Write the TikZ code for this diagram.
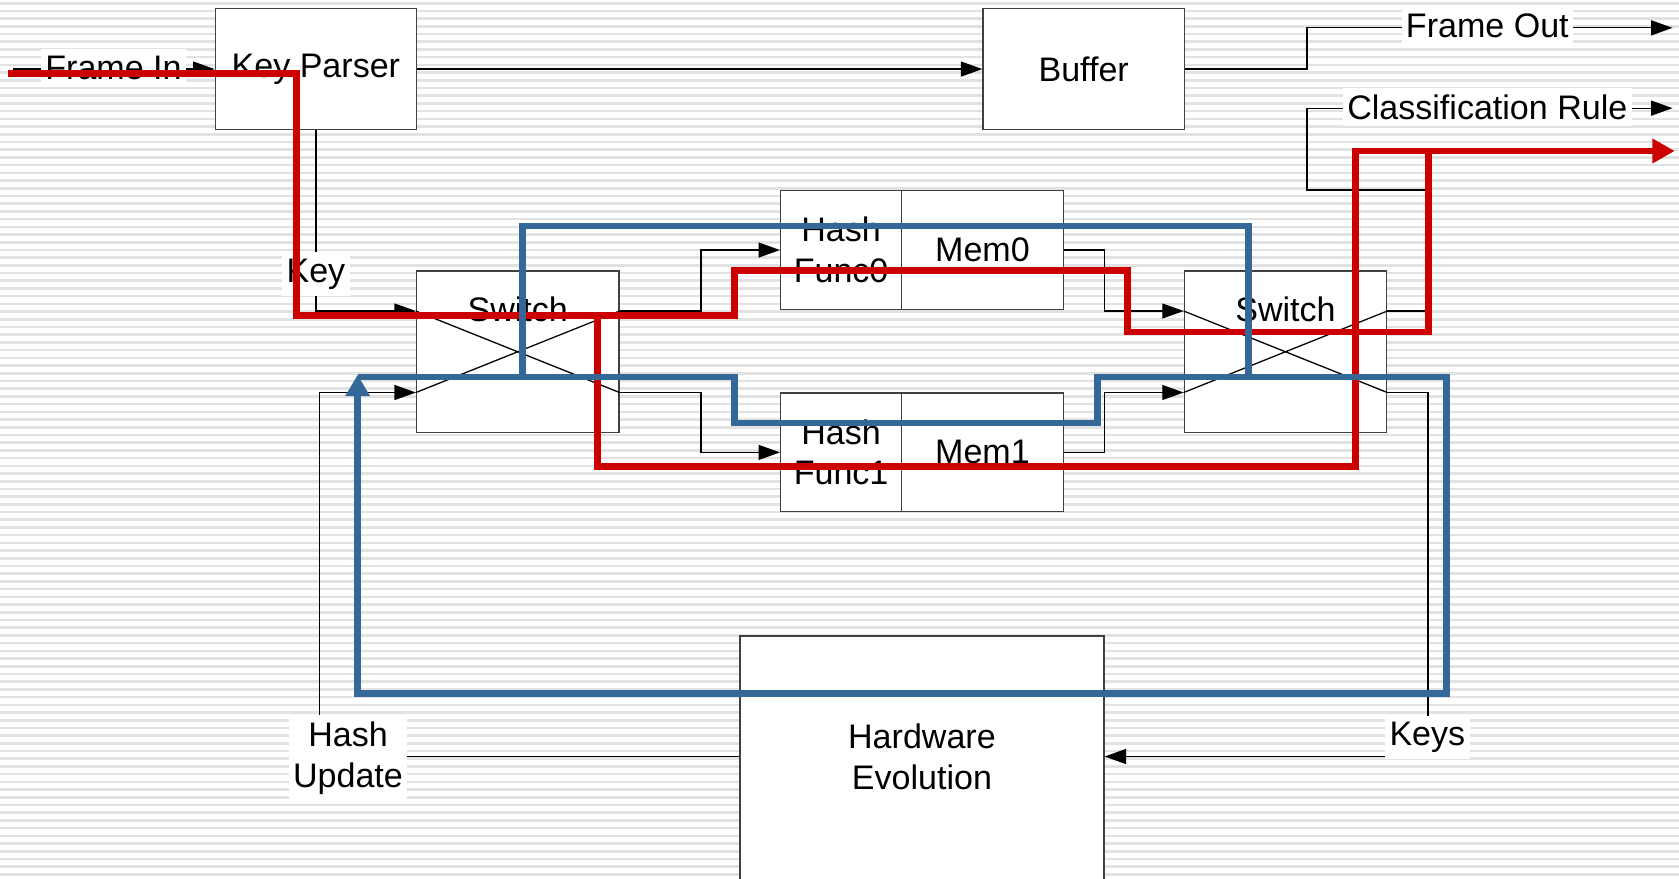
\documentclass[tikz,border=0pt]{standalone}
\usepackage{fontspec}
\setmainfont{Liberation Sans}
\usetikzlibrary{arrows.meta,calc}
\definecolor{redp}{RGB}{204,0,0}
\definecolor{bluep}{RGB}{52,104,153}
\definecolor{stripec}{RGB}{226,226,226}
\begin{document}
\begin{tikzpicture}[x=0.5pt,y=-0.5pt,
  box/.style={draw=black!75, line width=0.6pt, fill=white, inner sep=0pt,
    font=\fontsize{15.9}{19}\selectfont, align=center},
  txt/.style={font=\fontsize{15.9}{19}\selectfont, align=center, inner sep=0pt},
  lbl/.style={txt, fill=white, inner xsep=2pt, inner ysep=3pt},
  conn/.style={line width=0.6pt, black},
  arr/.style={conn, -{Triangle[length=10pt,width=7pt]}},
  xline/.style={line width=0.6pt, black},
  redline/.style={redp, line width=3.2pt, line join=miter},
  blueline/.style={bluep, line width=3.2pt, line join=miter}]
\useasboundingbox (0,0) rectangle (1568,820);
\fill[white] (0,0) rectangle (1568,820);
\foreach \i in {0,...,114} \draw[stripec, line width=1.2pt] (0,\i*7.2+3) -- (1568,\i*7.2+3);

% boxes
\node[box, minimum width=94pt, minimum height=56.5pt] (kp) at (295,64.5) {Key Parser};
\node[box, minimum width=94pt, minimum height=56.5pt] (buf) at (1012,64.5) {Buffer};
\node[box, minimum width=94.5pt, minimum height=75.5pt] (sw1) at (483.5,328.5) {};
\node[box, minimum width=94.5pt, minimum height=75.5pt] (sw2) at (1200.5,328.5) {};
\node[box, minimum width=56.5pt, minimum height=55.5pt] (hf0) at (785.5,233.5) {Hash\\Func0};
\node[box, minimum width=75.5pt, minimum height=55.5pt] (m0) at (917.5,233.5) {Mem0};
\node[box, minimum width=56.5pt, minimum height=55.5pt] (hf1) at (785.5,422.5) {Hash\\Func1};
\node[box, minimum width=75.5pt, minimum height=55.5pt] (m1) at (917.5,422.5) {Mem1};
\node[box, minimum width=170pt, minimum height=120pt] (hw) at (861,714) {};
\node[txt] (hwt) at (861,706.5) {Hardware\\Evolution};
\node[txt] (sw1t) at (483.5,289) {Switch};
\node[txt] (sw2t) at (1200.5,289) {Switch};

% switch ports
\coordinate (s1lu) at ($(sw1.north west)!0.25!(sw1.south west)$);
\coordinate (s1ll) at ($(sw1.north west)!0.75!(sw1.south west)$);
\coordinate (s1ru) at ($(sw1.north east)!0.25!(sw1.south east)$);
\coordinate (s1rl) at ($(sw1.north east)!0.75!(sw1.south east)$);
\coordinate (s2lu) at ($(sw2.north west)!0.25!(sw2.south west)$);
\coordinate (s2ll) at ($(sw2.north west)!0.75!(sw2.south west)$);
\coordinate (s2ru) at ($(sw2.north east)!0.25!(sw2.south east)$);
\coordinate (s2rl) at ($(sw2.north east)!0.75!(sw2.south east)$);
\draw[xline] (s1lu) -- (s1rl) (s1ll) -- (s1ru);
\draw[xline] (s2lu) -- (s2rl) (s2ll) -- (s2ru);

% free ends
\coordinate (fin) at (12,64.5);
\coordinate (fout) at (1562,26);
\coordinate (crout) at (1562,101);

% connectors
\draw[arr] (fin) -- (kp.west);
\node[lbl] (finl) at (106,63) {Frame In};
\draw[arr] (kp.east) -- (buf.west);
\draw[arr] (buf.east) -- ++(114,0) |- (fout);
\node[lbl] (foutl) at (1389,24) {Frame Out};
\draw[arr] (s2ru) -- ++(39,0) -- ++(0,-113) -- ++(-114,0) |- (crout);
\node[lbl] (crl) at (1389,100) {Classification Rule};
\draw[arr] (kp.south) |- (s1lu);
\node[lbl] (keyl) at (295,256) {Key};
\draw[arr] (s1ru) -- ++(76,0) |- (hf0.west);
\draw[arr] (s1rl) -- ++(76,0) |- (hf1.west);
\draw[arr] (m0.east) -- ++(38,0) |- (s2lu);
\draw[arr] (m1.east) -- ++(38,0) |- (s2ll);
\draw[arr] (s2rl) -- ++(38,0) |- (hwt -| hw.east);
\node[lbl] (keysl) at (1333,689) {Keys};
\draw[arr] (hwt -| hw.west) -| ($(s1ll)+(-90,0)$) -- (s1ll);
\node[lbl] (hul) at (325,708) {Hash\\Update};

% red overlay
\draw[redline, line cap=rect] (11,69) -- (277,69) -- (277,295) -- (686,295) -- (686,253)
  -- (1053,253) -- (1053,310) -- (1334,310) -- (1334,141);
\draw[redline, -{Triangle[length=10.5pt,width=11pt]}] (558,295) -- (558,436) -- (1266,436)
  -- (1266,141) -- (1564,141);

% blue overlay
\draw[blueline, line cap=rect] (488,352) -- (488,211) -- (1166,211) -- (1166,352);
\draw[blueline, -{Triangle[length=10pt,width=11pt]}] (334,352) -- (686,352) -- (686,395)
  -- (1025,395) -- (1025,352) -- (1351,352) -- (1351,648) -- (334,648) -- (334,350);
\end{tikzpicture}
\end{document}
